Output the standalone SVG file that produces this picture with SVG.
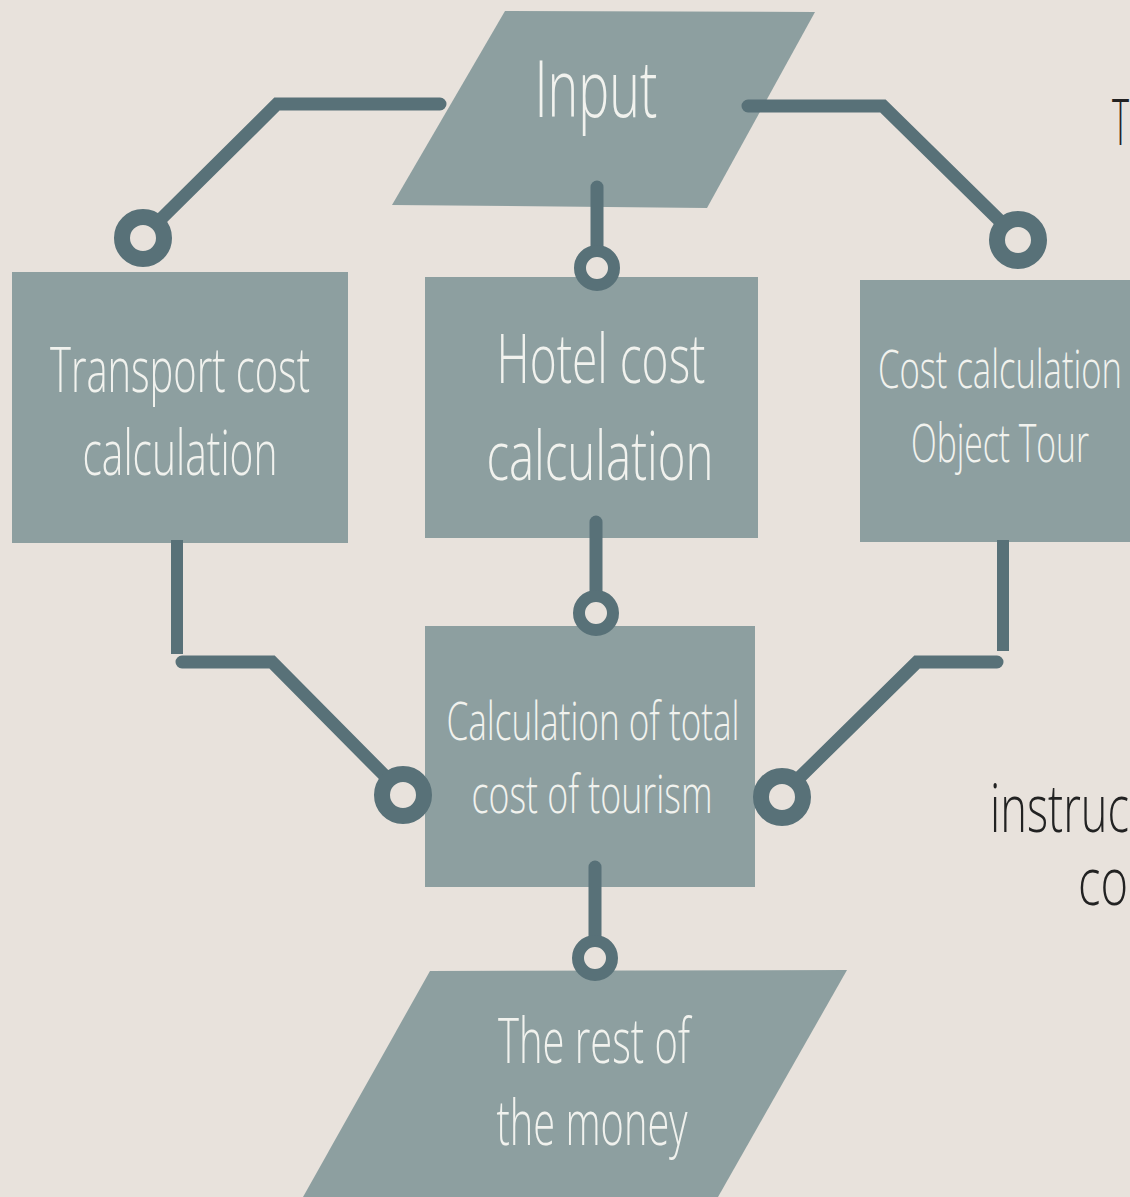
<svg xmlns="http://www.w3.org/2000/svg" width="1130" height="1197" viewBox="0 0 1130 1197">
<style>
.shape{fill:#8d9fa0}
.lbl{font-family:"Open Sans","Liberation Sans",sans-serif;font-weight:300;fill:#f1f2ee;text-anchor:middle}
.wire{fill:none;stroke:#587178;stroke-width:13;stroke-linecap:round;stroke-linejoin:miter}
.wireb{fill:none;stroke:#587178;stroke-width:12;stroke-linecap:butt}
.ring{fill:#e8e2dc;stroke:#587178;stroke-width:16}
.ringS{fill:#e8e2dc;stroke:#587178;stroke-width:12}
.side{font-family:"Open Sans","Liberation Sans",sans-serif;font-weight:300;fill:#222222}
</style>
<rect x="0" y="0" width="1130" height="1197" fill="#e8e2dc"/>

<g id="node-input">
<polygon class="shape" points="505,11 815,12 707,208 392,205"/>
<text class="lbl" x="596" y="117" font-size="80" textLength="123" lengthAdjust="spacingAndGlyphs">Input</text>
</g>

<g id="node-transport">
<rect class="shape" x="12" y="272" width="336" height="271"/>
<text class="lbl" x="180" y="392" font-size="63" textLength="260" lengthAdjust="spacingAndGlyphs">Transport cost</text>
<text class="lbl" x="180" y="475" font-size="63" textLength="195" lengthAdjust="spacingAndGlyphs">calculation</text>
</g>

<g id="node-hotel">
<rect class="shape" x="425" y="277" width="333" height="261"/>
<text class="lbl" x="601" y="383" font-size="68" textLength="209" lengthAdjust="spacingAndGlyphs">Hotel cost</text>
<text class="lbl" x="600" y="480" font-size="68" textLength="227" lengthAdjust="spacingAndGlyphs">calculation</text>
</g>

<g id="node-object">
<rect class="shape" x="860" y="280" width="270" height="262"/>
<text class="lbl" x="1000" y="388" font-size="53" textLength="244" lengthAdjust="spacingAndGlyphs">Cost calculation</text>
<text class="lbl" x="1000" y="462" font-size="53" textLength="178" lengthAdjust="spacingAndGlyphs">Object Tour</text>
</g>

<g id="node-total">
<rect class="shape" x="425" y="626" width="330" height="261"/>
<text class="lbl" x="593" y="740" font-size="53" textLength="293" lengthAdjust="spacingAndGlyphs">Calculation of total</text>
<text class="lbl" x="592" y="813" font-size="53" textLength="241" lengthAdjust="spacingAndGlyphs">cost of tourism</text>
</g>

<g id="node-rest">
<polygon class="shape" points="430,971 847,970 718,1197 303,1197"/>
<text class="lbl" x="594" y="1063" font-size="63" textLength="192" lengthAdjust="spacingAndGlyphs">The rest of</text>
<text class="lbl" x="592" y="1145" font-size="63" textLength="191" lengthAdjust="spacingAndGlyphs">the money</text>
</g>

<g id="connectors">
<polyline class="wire" points="440,104 277,104 162,218"/>
<circle class="ring" cx="143" cy="238" r="21"/>
<polyline class="wire" points="748,106 883,106 1000,221"/>
<circle class="ring" cx="1018" cy="240" r="21"/>
<line class="wire" x1="597" y1="187" x2="597" y2="252"/>
<circle class="ringS" cx="597" cy="268" r="17"/>
<line class="wire" x1="596" y1="522" x2="596" y2="596"/>
<circle class="ringS" cx="596" cy="613" r="17"/>
<line class="wire" x1="595" y1="867" x2="595" y2="941"/>
<circle class="ringS" cx="595" cy="958" r="17"/>
<line class="wireb" x1="177" y1="540" x2="177" y2="654"/>
<polyline class="wire" points="182,662 272,662 388,779"/>
<circle class="ring" cx="403" cy="795" r="21"/>
<line class="wireb" x1="1003" y1="540" x2="1003" y2="651"/>
<polyline class="wire" points="997,662 917,662 797,780"/>
<circle class="ring" cx="782" cy="797" r="21"/>
</g>

<g id="side-text">
<text class="side" x="1112" y="145" font-size="64" textLength="17" lengthAdjust="spacingAndGlyphs">T</text>
<text class="side" x="990" y="832" font-size="66" textLength="139" lengthAdjust="spacingAndGlyphs">instruc</text>
<text class="side" x="1078" y="905" font-size="66" textLength="50" lengthAdjust="spacingAndGlyphs">co</text>
</g>
</svg>
